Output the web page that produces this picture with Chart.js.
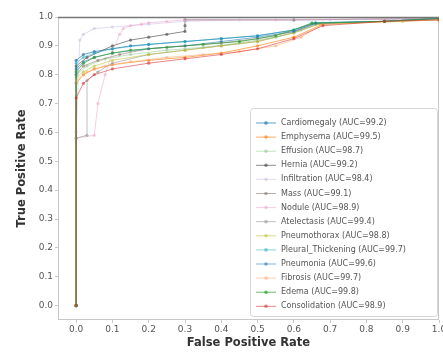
<!DOCTYPE html>
<html>
<head>
<meta charset="utf-8">
<script src="https://cdn.jsdelivr.net/npm/chart.js@4.4.1/dist/chart.umd.min.js"></script>
<style>
  html, body { margin: 0; padding: 0; background: #fff; }
  #wrap { width: 443px; height: 356px; }
</style>
</head>
<body>
<div id="wrap"><canvas id="rocChart" width="443" height="356"></canvas></div>
<script>
// ===== Data =====
const categories = ['Cardiomegaly', 'Emphysema', 'Effusion', 'Hernia', 'Infiltration', 'Mass', 'Nodule',
  'Atelectasis', 'Pneumothorax', 'Pleural_Thickening', 'Pneumonia', 'Fibrosis', 'Edema', 'Consolidation'];
const aucValues = [99.2, 99.5, 98.7, 99.2, 98.4, 99.1, 98.9, 99.4, 98.8, 99.7, 99.6, 99.7, 99.8, 98.9];

const fprCardiomegaly = [0, 0, 0.02, 0.05, 0.1, 0.15, 0.2, 0.3, 0.4, 0.5, 0.6, 0.66, 0.85, 1.0];
const tprCardiomegaly = [0, 0.85, 0.87, 0.88, 0.89, 0.9, 0.905, 0.915, 0.925, 0.935, 0.955, 0.98, 0.985, 0.995];
const fprEmphysema = [0, 0, 0.02, 0.05, 0.1, 0.2, 0.3, 0.4, 0.5, 0.6, 0.68, 0.85, 1.0];
const tprEmphysema = [0, 0.77, 0.8, 0.82, 0.835, 0.85, 0.86, 0.875, 0.9, 0.93, 0.975, 0.985, 0.995];
const fprEffusion = [0, 0, 0.03, 0.08, 0.15, 0.25, 0.35, 0.45, 0.55, 0.62, 0.68, 1.0];
const tprEffusion = [0, 0.8, 0.83, 0.855, 0.87, 0.885, 0.895, 0.91, 0.93, 0.955, 0.98, 0.99];
const fprHernia = [0, 0, 0.03, 0.1, 0.15, 0.2, 0.25, 0.3, 0.3, 0.3, 0.6, 1.0];
const tprHernia = [0, 0.83, 0.86, 0.9, 0.92, 0.93, 0.94, 0.95, 0.97, 0.99, 0.99, 0.995];
const fprInfiltration = [0, 0, 0.01, 0.02, 0.05, 0.1, 0.2, 0.3, 0.45, 0.7, 1.0];
const tprInfiltration = [0, 0.6, 0.92, 0.94, 0.96, 0.965, 0.975, 0.985, 0.99, 0.99, 0.995];
const fprMass = [0, 0, 0.02, 0.06, 0.12, 0.2, 0.3, 0.4, 0.5, 0.6, 0.66, 0.85, 1.0];
const tprMass = [0, 0.8, 0.83, 0.85, 0.87, 0.89, 0.9, 0.91, 0.925, 0.95, 0.978, 0.985, 0.995];
const fprNodule = [0, 0, 0.05, 0.06, 0.08, 0.1, 0.12, 0.13, 0.15, 0.18, 0.2, 0.25, 0.3, 0.55, 1.0];
const tprNodule = [0, 0.58, 0.59, 0.7, 0.8, 0.88, 0.94, 0.96, 0.97, 0.975, 0.98, 0.985, 0.99, 0.99, 0.995];
const fprAtelectasis = [0, 0, 0.03, 0.03, 0.06, 0.1, 0.2, 0.3, 0.4, 0.5, 0.6, 0.66, 0.85, 1.0];
const tprAtelectasis = [0, 0.58, 0.59, 0.78, 0.81, 0.84, 0.87, 0.885, 0.9, 0.915, 0.945, 0.975, 0.985, 0.995];
const fprPneumothorax = [0, 0, 0.02, 0.05, 0.1, 0.2, 0.3, 0.4, 0.5, 0.6, 0.67, 0.9, 1.0];
const tprPneumothorax = [0, 0.79, 0.81, 0.83, 0.85, 0.87, 0.885, 0.9, 0.915, 0.945, 0.975, 0.985, 0.99];
const fprPleural = [0, 0, 0.02, 0.05, 0.1, 0.2, 0.3, 0.4, 0.5, 0.6, 0.65, 0.85, 1.0];
const tprPleural = [0, 0.84, 0.86, 0.875, 0.89, 0.905, 0.915, 0.925, 0.935, 0.955, 0.98, 0.985, 0.995];
const fprPneumonia = [0, 0, 0.02, 0.05, 0.1, 0.2, 0.3, 0.4, 0.5, 0.6, 0.66, 0.85, 1.0];
const tprPneumonia = [0, 0.82, 0.845, 0.86, 0.875, 0.89, 0.9, 0.915, 0.93, 0.95, 0.978, 0.985, 0.995];
const fprFibrosis = [0, 0, 0.03, 0.08, 0.15, 0.25, 0.35, 0.45, 0.55, 0.62, 0.68, 1.0];
const tprFibrosis = [0, 0.78, 0.81, 0.83, 0.845, 0.86, 0.87, 0.88, 0.9, 0.93, 0.975, 0.99];
const fprEdema = [0, 0, 0.02, 0.05, 0.1, 0.15, 0.25, 0.35, 0.45, 0.55, 0.65, 0.85, 1.0];
const tprEdema = [0, 0.81, 0.84, 0.86, 0.875, 0.885, 0.895, 0.905, 0.915, 0.935, 0.978, 0.985, 0.995];
const fprConsolidation = [0, 0, 0.02, 0.05, 0.1, 0.2, 0.3, 0.4, 0.5, 0.6, 0.68, 0.85, 1.0];
const tprConsolidation = [0, 0.72, 0.77, 0.8, 0.82, 0.84, 0.855, 0.87, 0.89, 0.925, 0.97, 0.985, 0.99];

const xTicks = [0, 0.1, 0.2, 0.3, 0.4, 0.5, 0.6, 0.7, 0.8, 0.9, 1.0];
const yTicks = [0, 0.1, 0.2, 0.3, 0.4, 0.5, 0.6, 0.7, 0.8, 0.9, 1.0];

const fprList = [fprCardiomegaly, fprEmphysema, fprEffusion, fprHernia, fprInfiltration, fprMass, fprNodule,
  fprAtelectasis, fprPneumothorax, fprPleural, fprPneumonia, fprFibrosis, fprEdema, fprConsolidation];
const tprList = [tprCardiomegaly, tprEmphysema, tprEffusion, tprHernia, tprInfiltration, tprMass, tprNodule,
  tprAtelectasis, tprPneumothorax, tprPleural, tprPneumonia, tprFibrosis, tprEdema, tprConsolidation];

// ===== Colors =====
const seriesColors = [
  'rgba(31, 119, 180, 0.7)',    // Cardiomegaly
  'rgba(255, 127, 14, 0.65)',   // Emphysema
  'rgba(140, 200, 140, 0.55)',  // Effusion
  'rgba(80, 80, 80, 0.65)',     // Hernia
  'rgba(200, 185, 225, 0.5)',   // Infiltration
  'rgba(140, 109, 98, 0.55)',   // Mass
  'rgba(240, 160, 200, 0.5)',   // Nodule
  'rgba(150, 150, 150, 0.6)',   // Atelectasis
  'rgba(188, 189, 34, 0.55)',   // Pneumothorax
  'rgba(23, 170, 190, 0.5)',    // Pleural_Thickening
  'rgba(31, 119, 180, 0.55)',   // Pneumonia
  'rgba(255, 170, 110, 0.55)',  // Fibrosis
  'rgba(44, 160, 44, 0.7)',     // Edema
  'rgba(214, 39, 40, 0.55)',    // Consolidation
];

const FONT = "'DejaVu Sans', sans-serif";

const datasets = categories.map(function (name, i) {
  return {
    label: name + ' (AUC=' + aucValues[i].toFixed(1) + ')',
    data: fprList[i].map(function (x, j) { return { x: x, y: tprList[i][j] }; }),
    showLine: true,
    borderColor: seriesColors[i],
    backgroundColor: seriesColors[i],
    borderWidth: 1,
    pointRadius: 1.6,
    pointBorderWidth: 0,
    tension: 0,
    order: categories.length - i,
  };
});

// ===== Frame + legend drawn on canvas =====
const framePlugin = {
  id: 'frame',
  beforeDatasetsDraw(chart) {
    const { ctx, chartArea: a } = chart;
    ctx.save();
    ctx.strokeStyle = '#c8c8c8';
    ctx.lineWidth = 1;
    ctx.strokeRect(a.left + 0.5, a.top + 0.5, a.right - a.left - 1, a.bottom - a.top - 1);
    ctx.restore();
  },
  afterDatasetsDraw(chart) {
    const { ctx, chartArea: a } = chart;
    ctx.save();
    ctx.strokeStyle = '#777';
    ctx.lineWidth = 1.5;
    ctx.beginPath();
    ctx.moveTo(a.left, a.top + 0.5);
    ctx.lineTo(a.right, a.top + 0.5);
    ctx.stroke();

    // legend box
    const bx = 250, by = 108, bw = 187, bh = 208;
    ctx.fillStyle = 'rgba(255,255,255,0.85)';
    ctx.strokeStyle = '#d6d6d6';
    ctx.lineWidth = 1;
    ctx.beginPath();
    ctx.roundRect(bx + 0.5, by + 0.5, bw, bh, 3);
    ctx.fill();
    ctx.stroke();

    ctx.font = '8px ' + FONT;
    ctx.textBaseline = 'middle';
    chart.data.datasets.forEach(function (ds, i) {
      const y = 123 + i * 14.1;
      ctx.strokeStyle = ds.borderColor;
      ctx.lineWidth = 1;
      ctx.beginPath();
      ctx.moveTo(256, y);
      ctx.lineTo(276, y);
      ctx.stroke();
      ctx.fillStyle = ds.borderColor;
      ctx.beginPath();
      ctx.arc(266, y, 1.8, 0, Math.PI * 2);
      ctx.fill();
      ctx.fillStyle = '#555';
      ctx.fillText(ds.label, 281, y);
    });
    ctx.restore();
  }
};

new Chart(document.getElementById('rocChart').getContext('2d'), {
  type: 'scatter',
  data: { datasets: datasets },
  options: {
    responsive: false,
    animation: false,
    layout: { padding: { left: 0, top: 17, right: 3, bottom: 0 } },
    plugins: {
      legend: { display: false },
      tooltip: { enabled: false },
    },
    scales: {
      x: {
        type: 'linear',
        min: -0.05,
        max: 1.0,
        afterBuildTicks: function (scale) { scale.ticks = xTicks.map(function (v) { return { value: v }; }); },
        afterFit: function (scale) { scale.height = 36; scale.paddingLeft = 0; scale.paddingRight = 0; },
        grid: { drawOnChartArea: false, drawTicks: true, tickLength: 3, color: '#c8c8c8' },
        border: { display: false },
        ticks: {
          padding: 1,
          maxRotation: 0,
          autoSkip: false,
          color: '#555',
          font: { family: FONT, size: 9 },
          callback: function (v) { return v.toFixed(1); },
        },
        title: {
          display: true,
          text: 'False Positive Rate',
          color: '#333',
          padding: { top: 0, bottom: 6 },
          font: { family: FONT, size: 11.5, weight: 'bold' },
        },
      },
      y: {
        type: 'linear',
        min: -0.05,
        max: 1.0,
        afterBuildTicks: function (scale) { scale.ticks = yTicks.map(function (v) { return { value: v }; }); },
        afterFit: function (scale) { scale.width = 58; scale.paddingTop = 0; scale.paddingBottom = 0; },
        grid: { drawOnChartArea: false, drawTicks: true, tickLength: 3, color: '#c8c8c8' },
        border: { display: false },
        ticks: {
          padding: 2,
          autoSkip: false,
          color: '#555',
          font: { family: FONT, size: 9 },
          callback: function (v) { return v.toFixed(1); },
        },
        title: {
          display: true,
          text: 'True Positive Rate',
          color: '#333',
          padding: { top: 15, bottom: 0 },
          font: { family: FONT, size: 11.5, weight: 'bold' },
        },
      },
    },
  },
  plugins: [framePlugin],
});
</script>
</body>
</html>
